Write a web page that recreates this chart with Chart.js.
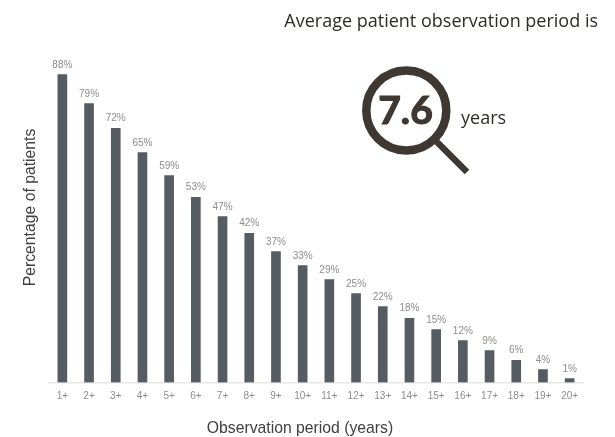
<!DOCTYPE html>
<html>
<head>
<meta charset="utf-8">
<style>
    html, body { margin: 0; padding: 0; background: #fff; }
    canvas { display: block; }
</style>
<script src="https://cdn.jsdelivr.net/npm/chart.js@4"></script>
</head>
<body>
<canvas id="chart" width="615" height="437"></canvas>
<script>
const periods = ["1+", "2+", "3+", "4+", "5+", "6+", "7+", "8+", "9+", "10+", "11+", "12+", "13+", "14+", "15+", "16+", "17+", "18+", "19+", "20+"];
const patientPercent = [88.0, 79.7, 72.6, 65.7, 59.1, 52.9, 47.4, 42.6, 37.4, 33.4, 29.4, 25.4, 21.7, 18.3, 15.1, 12.0, 9.1, 6.3, 3.7, 1.1];
const percentLabels = ["88%", "79%", "72%", "65%", "59%", "53%", "47%", "42%", "37%", "33%", "29%", "25%", "22%", "18%", "15%", "12%", "9%", "6%", "4%", "1%"];
const headline = "Average patient observation period is";
const xTitle = "Observation period (years)";
const yTitle = "Percentage of patients";
const averageYears = "7.6";
const averageUnit = "years";

// percent labels above the bars
const barLabels = {
    id: "barLabels",
    afterDatasetsDraw(chart) {
        const ctx = chart.ctx;
        const bars = chart.getDatasetMeta(0).data;
        ctx.save();
        ctx.font = "10px 'Liberation Sans'";
        ctx.fillStyle = "#8c8c8c";
        ctx.textAlign = "center";
        ctx.textBaseline = "alphabetic";
        bars.forEach((bar, i) => {
            ctx.fillText(percentLabels[i], bar.x, bar.y - 7);
        });
        ctx.restore();
    }
};

// headline, x title (sits left of the plot centre) and the magnifying glass
const callout = {
    id: "callout",
    afterDraw(chart) {
        const ctx = chart.ctx;
        ctx.save();
        ctx.fillStyle = "#2f2b28";
        ctx.font = "18px 'Open Sans'";
        ctx.textAlign = "right";
        ctx.fillText(headline, 598, 27);

        ctx.fillStyle = "#404040";
        ctx.font = "15.75px 'Liberation Sans'";
        ctx.textAlign = "center";
        ctx.fillText(xTitle, 300, 433);

        ctx.strokeStyle = "#3f3832";
        ctx.lineWidth = 8.5;
        ctx.beginPath();
        ctx.arc(406.3, 110.5, 40, 0, Math.PI * 2);
        ctx.stroke();
        ctx.lineWidth = 6.5;
        ctx.beginPath();
        ctx.moveTo(436, 141);
        ctx.lineTo(467, 172);
        ctx.stroke();

        // Lato bold alone is too thin for the big number
        ctx.fillStyle = "#3f3832";
        ctx.textAlign = "center";
        ctx.font = "bold 39px Lato";
        ctx.lineWidth = 1.2;
        ctx.fillText(averageYears, 405.5, 124);
        ctx.strokeText(averageYears, 405.5, 124);

        ctx.fillStyle = "#2f2b28";
        ctx.textAlign = "left";
        ctx.font = "18px 'Open Sans'";
        ctx.fillText(averageUnit, 461, 124);
        ctx.restore();
    }
};

new Chart(document.getElementById("chart"), {
    type: "bar",
    data: {
        labels: periods,
        datasets: [{
            data: patientPercent,
            backgroundColor: "#565c63",
            barThickness: 9
        }]
    },
    options: {
        responsive: false,
        animation: false,
        layout: { padding: { left: 0, right: 32, top: 32.5, bottom: 0 } },
        plugins: { legend: { display: false }, tooltip: { enabled: false } },
        scales: {
            x: {
                grid: { display: false, drawTicks: false },
                border: { color: "#e8e8e8", width: 1.5 },
                ticks: {
                    color: "#8c8c8c",
                    font: { family: "'Liberation Sans'", size: 10 },
                    padding: 8,
                    maxRotation: 0,
                    autoSkip: false
                },
                afterFit(axis) { axis.height = 54.5; }
            },
            y: {
                min: 0,
                max: 100,
                grid: { display: false, drawTicks: false },
                border: { display: false },
                ticks: { display: false },
                title: {
                    display: true,
                    text: yTitle,
                    color: "#404040",
                    font: { family: "'Liberation Sans'", size: 15.75 },
                    padding: { top: 21, bottom: 0 }
                },
                afterFit(axis) { axis.width = 49; }
            }
        }
    },
    plugins: [barLabels, callout]
});
</script>
</body>
</html>
